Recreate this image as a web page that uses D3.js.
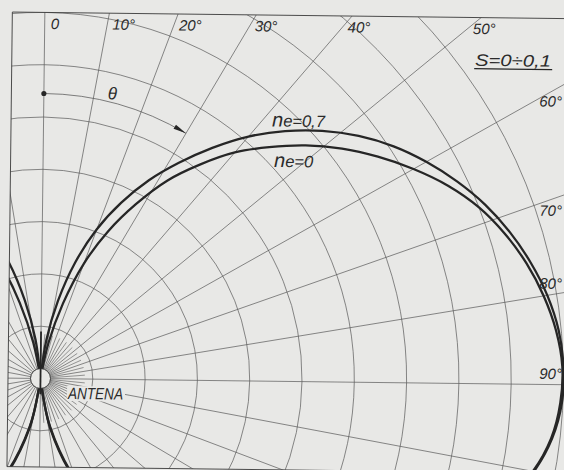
<!DOCTYPE html>
<html>
<head>
<meta charset="utf-8">
<script src="https://cdn.jsdelivr.net/npm/d3@7"></script>
<style>
  html, body { margin: 0; padding: 0; background: #e8e8e6; }
  svg { display: block; }
  text { font-family: "Liberation Sans", Arial, sans-serif; font-style: italic; fill: #2b2b2b; }
</style>
</head>
<body>
<svg id="chart" width="564" height="470"></svg>
<script>
// Relative field-strength rings (0.1 steps) and angle spokes (degrees from the vertical)
const ringValues = [0.1, 0.2, 0.3, 0.4, 0.5, 0.6, 0.7, 0.8, 0.9, 1.0];
const spokeAngles = d3.range(0, 360, 10);
const fineSpokeAngles = d3.range(5, 180, 10);
const angleTicks = [0, 10, 20, 30, 40, 50, 60, 70, 80, 90];
const angleTickLabels = ["0", "10°", "20°", "30°", "40°", "50°", "60°", "70°", "80°", "90°"];

// Radiation pattern, n_e = 0.7 (angle in degrees, relative field)
const thetaNe07 = [4, 8, 12, 16, 20, 24, 28, 32, 36, 40, 44, 48, 52, 56, 60, 64, 68, 72, 76, 80, 84, 88, 92, 96, 100, 110, 120, 130, 140, 150, 160, 168, 174];
const rNe07 = [0, 0.075, 0.152, 0.232, 0.305, 0.37, 0.432, 0.49, 0.55, 0.61, 0.665, 0.717, 0.765, 0.808, 0.846, 0.881, 0.913, 0.94, 0.963, 0.982, 0.995, 1.0, 0.998, 0.985, 0.96, 0.88, 0.76, 0.62, 0.48, 0.34, 0.21, 0.1, 0];

// Radiation pattern, n_e = 0
const thetaNe0 = [8, 12, 16, 20, 24, 28, 32, 36, 40, 44, 48, 52, 56, 60, 64, 68, 72, 76, 80, 84, 88, 92, 96, 100, 110, 120, 130, 140, 150, 160, 168, 176];
const rNe0 = [0, 0.07, 0.15, 0.235, 0.31, 0.38, 0.45, 0.51, 0.57, 0.622, 0.675, 0.725, 0.772, 0.818, 0.862, 0.9, 0.93, 0.955, 0.975, 0.99, 0.998, 0.995, 0.983, 0.958, 0.875, 0.755, 0.615, 0.475, 0.335, 0.205, 0.095, 0];

const seriesValues = ["0,7", "0"];
const noteText = "S=0÷0,1";
const antennaText = "ANTENA";
const thetaSymbol = "θ";
const thetaSweep = 30;      // sweep of the θ indicator, degrees
const thetaRadius = 0.545;  // radius of the θ indicator, relative units

const W = 564, H = 470;
const cx = 40.5, cy = 378.5;
const tilt = 0.68;
const ink = "#262626", gridInk = "#585858", paper = "#e8e8e6";

const rScale = d3.scaleLinear().domain([0, 1]).range([0, 523]);
const rad = d => d * Math.PI / 180;
const px = (a, r) => r * Math.sin(rad(a));
const py = (a, r) => -r * Math.cos(rad(a));

const svg = d3.select("#chart");
svg.append("rect").attr("width", W).attr("height", H).attr("fill", paper);

// the sheet sits slightly turned
const root = svg.append("g").attr("transform", `rotate(${tilt},${cx},${cy})`);

const yTop = cy - rScale(0.7);
const yBottom = cy + 88.5;
const xLeft = 8;

svg.append("defs").append("clipPath").attr("id", "frame")
  .append("rect").attr("x", xLeft).attr("y", yTop)
  .attr("width", W + 60 - xLeft).attr("height", yBottom - yTop);

const plot = root.append("g").attr("clip-path", "url(#frame)");
const polar = plot.append("g").attr("transform", `translate(${cx},${cy})`);

const hub = 10;

// rings
polar.append("g").selectAll("circle").data(ringValues).join("circle")
  .attr("r", d => rScale(d)).attr("fill", "none")
  .attr("stroke", gridInk).attr("stroke-width", 0.7);

// spokes every 10 degrees
polar.append("g").selectAll("line").data(spokeAngles).join("line")
  .attr("x1", d => px(d, hub)).attr("y1", d => py(d, hub))
  .attr("x2", d => px(d, 800)).attr("y2", d => py(d, 800))
  .attr("stroke", gridInk).attr("stroke-width", 0.7);

// short intermediate spokes beside the antenna
polar.append("g").selectAll("line").data(fineSpokeAngles).join("line")
  .attr("x1", d => px(d, hub)).attr("y1", d => py(d, hub))
  .attr("x2", d => px(d, rScale(0.085))).attr("y2", d => py(d, rScale(0.085)))
  .attr("stroke", gridInk).attr("stroke-width", 0.6);

// θ indicator: dot, arc and arrow head
const tR = rScale(thetaRadius);
const tp = d3.path();
tp.arc(0, 0, tR, -Math.PI / 2, rad(thetaSweep) - Math.PI / 2);
polar.append("path").attr("d", tp.toString()).attr("fill", "none")
  .attr("stroke", gridInk).attr("stroke-width", 0.75);
polar.append("circle").attr("cx", 0).attr("cy", -tR).attr("r", 2.6).attr("fill", ink);
{
  const a = rad(thetaSweep);
  const tip = [tR * Math.sin(a), -tR * Math.cos(a)];
  const dir = [Math.cos(a), Math.sin(a)];
  const nrm = [-Math.sin(a), Math.cos(a)];
  const L = 13, w = 2.4;
  const base = [tip[0] - L * dir[0], tip[1] - L * dir[1]];
  polar.append("path")
    .attr("d", `M${tip[0]},${tip[1]}L${base[0] + w * nrm[0]},${base[1] + w * nrm[1]}L${base[0] - w * nrm[0]},${base[1] - w * nrm[1]}Z`)
    .attr("fill", ink);
}

// radiation lobes, mirrored about the antenna axis
const lobe = sign => d3.lineRadial()
  .angle(d => sign * rad(d[0]))
  .radius(d => rScale(d[1]))
  .curve(d3.curveCatmullRom.alpha(0.5));

const ne07 = thetaNe07.map((t, i) => [t, rNe07[i]]);
const ne0 = thetaNe0.map((t, i) => [t, rNe0[i]]);
[ne07, ne0].forEach(series => {
  [1, -1].forEach(sign => {
    polar.append("path").attr("d", lobe(sign)(series))
      .attr("fill", "none").attr("stroke", ink)
      .attr("stroke-width", 2.3).attr("stroke-linejoin", "round");
  });
});

// antenna
polar.append("circle").attr("r", hub).attr("fill", paper)
  .attr("stroke", ink).attr("stroke-width", 0.9);
polar.append("line").attr("x1", 0).attr("y1", -rScale(0.09)).attr("x2", 0).attr("y2", rScale(0.03))
  .attr("stroke", ink).attr("stroke-width", 1.8);

// frame
const frame = root.append("g").attr("stroke", "#3a3a3a").attr("stroke-width", 0.9).attr("fill", "none");
frame.append("line").attr("x1", xLeft).attr("y1", yTop).attr("x2", W + 60).attr("y2", yTop);
frame.append("line").attr("x1", xLeft).attr("y1", yTop).attr("x2", xLeft).attr("y2", yBottom);
frame.append("line").attr("x1", xLeft).attr("y1", yBottom).attr("x2", W + 60).attr("y2", yBottom);

// angle labels
const labels = root.append("g").attr("font-size", 15);
angleTicks.forEach((a, i) => {
  if (a <= 50) {
    const yc = yTop + 11;
    const x = a === 0 ? cx + 6 : cx + (cy - yc) * Math.tan(rad(a)) + 5;
    labels.append("text").attr("x", x).attr("y", yc + 5.4).text(angleTickLabels[i]);
  } else {
    const xm = 552;
    const ySpoke = cy - (xm - cx) / Math.tan(rad(a));
    const yc = a < 75 ? ySpoke + 12 : ySpoke - 11;
    // keep the right end inside the sheet once it is turned
    const xEnd = 562 - (cy - yc) * Math.sin(rad(tilt));
    labels.append("text").attr("x", xEnd).attr("y", yc + 5.4)
      .attr("text-anchor", "end").text(angleTickLabels[i]);
  }
});

// θ symbol
{
  const a = 13.5, r = tR + 9;
  root.append("text").attr("x", cx + px(a, r)).attr("y", cy + py(a, r) + 6)
    .attr("text-anchor", "middle").attr("font-size", 17).text(thetaSymbol);
}

// series labels
const seriesLabel = (x, y, value) => {
  const t = root.append("text").attr("x", x).attr("y", y).attr("font-size", 16.5);
  t.append("tspan").attr("font-size", 20).text("n");
  t.append("tspan").text("e=" + value);
};
seriesLabel(cx + 228.5, cy - 254.8, seriesValues[0]);
seriesLabel(cx + 231, cy - 214.3, seriesValues[1]);

// note
root.append("text").attr("x", cx + 430.7).attr("y", cy - 317.8)
  .attr("font-size", 16.5).attr("textLength", 76).attr("lengthAdjust", "spacingAndGlyphs").text(noteText);
root.append("line").attr("x1", cx + 430).attr("x2", cx + 508)
  .attr("y1", cy - 315).attr("y2", cy - 315).attr("stroke", ink).attr("stroke-width", 1.2);

// antenna caption
const cap = root.append("g").attr("transform", `translate(${cx + 27.7},${cy + 20.2})`);
cap.append("rect").attr("x", -1).attr("y", -13).attr("width", 58).attr("height", 15).attr("fill", paper);
cap.append("text").attr("font-size", 16.5).attr("textLength", 55)
  .attr("lengthAdjust", "spacingAndGlyphs").text(antennaText);
</script>
</body>
</html>
